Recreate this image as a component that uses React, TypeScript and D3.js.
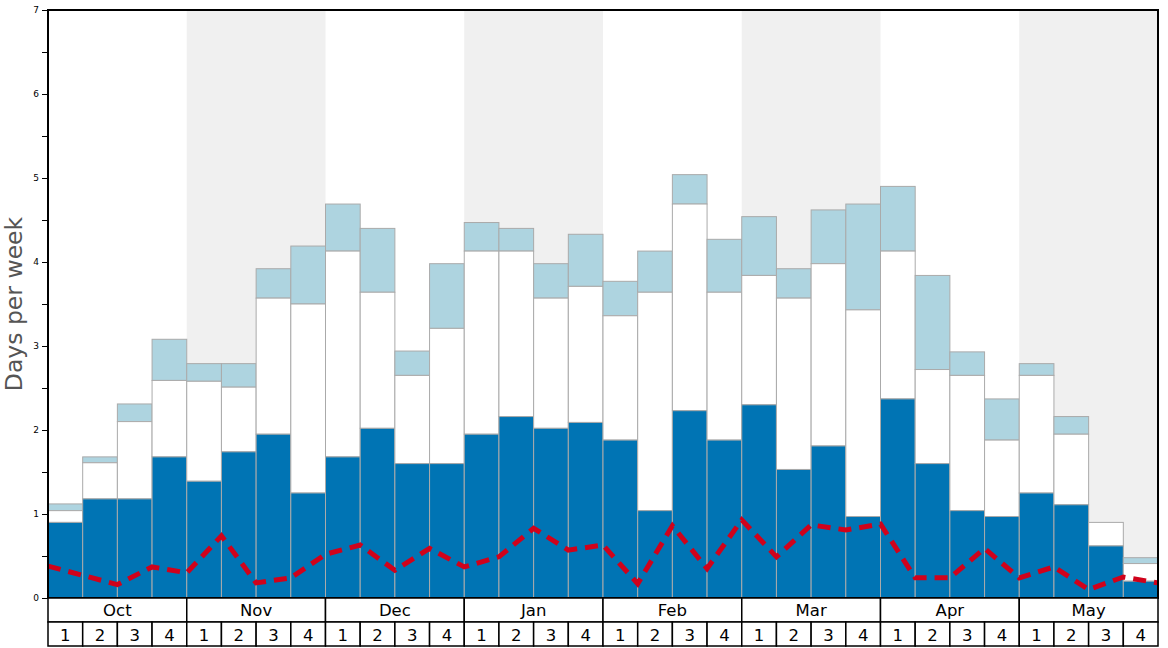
import * as React from 'react';
import * as d3 from 'd3';
import {useEffect, useRef} from 'react';

const months = ['Oct', 'Nov', 'Dec', 'Jan', 'Feb', 'Mar', 'Apr', 'May'];
const weekLabels = ['1', '2', '3', '4'];

// cumulative levels of the three stacked layers, one per week
const seriesLow = [0.9, 1.18, 1.18, 1.68, 1.39, 1.74, 1.95, 1.25, 1.68, 2.02, 1.6, 1.6, 1.95, 2.16, 2.02, 2.09,
    1.88, 1.04, 2.23, 1.88, 2.3, 1.53, 1.81, 0.97, 2.37, 1.6, 1.04, 0.97, 1.25, 1.11, 0.62, 0.2];
const seriesMid = [1.04, 1.61, 2.1, 2.59, 2.58, 2.51, 3.57, 3.5, 4.13, 3.64, 2.65, 3.21, 4.13, 4.13, 3.57, 3.71,
    3.36, 3.64, 4.69, 3.64, 3.84, 3.57, 3.98, 3.43, 4.13, 2.72, 2.65, 1.88, 2.65, 1.95, 0.9, 0.41];
const seriesHigh = [1.12, 1.68, 2.31, 3.08, 2.79, 2.79, 3.92, 4.19, 4.69, 4.4, 2.94, 3.98, 4.47, 4.4, 3.98, 4.33,
    3.77, 4.13, 5.04, 4.27, 4.54, 3.92, 4.62, 4.69, 4.9, 3.84, 2.93, 2.37, 2.79, 2.16, 0.9, 0.48];
// dashed line, one value per week boundary
const avgLine = [0.38, 0.27, 0.16, 0.37, 0.3, 0.74, 0.18, 0.24, 0.52, 0.63, 0.33, 0.59, 0.37, 0.49, 0.83, 0.57,
    0.63, 0.17, 0.86, 0.35, 0.93, 0.49, 0.87, 0.81, 0.88, 0.24, 0.24, 0.59, 0.24, 0.37, 0.1, 0.25, 0.18];

const width = 1168;
const height = 648;
const margins = {left: 48, right: 10, top: 10, bottom: 50};
const rowHeight = 24;

export default function App() {
    const axisRef = useRef<SVGGElement>(null);

    const weeks = months.flatMap(m => weekLabels.map(w => `${m}-${w}`));
    const x0 = margins.left;
    const x1 = width - margins.right;
    const y0 = height - margins.bottom;
    const xScale = d3.scaleBand().domain(weeks).range([x0, x1]);
    const monthScale = d3.scaleBand().domain(months).range([x0, x1]);
    const lineX = d3.scaleLinear().domain([0, weeks.length]).range([x0, x1]);
    const yScale = d3.scaleLinear().domain([0, 7]).range([y0, margins.top]);

    useEffect(() => {
        const axis = d3.axisLeft(yScale)
            .tickValues(d3.range(0, 7.01, 0.5))
            .tickFormat((d: any) => (d % 1 === 0 ? String(d) : ''))
            .tickSizeInner(5)
            .tickSizeOuter(0);
        const g = d3.select(axisRef.current);
        g.call(axis as any);
        g.select('.domain').remove();
        g.selectAll('text').attr('font-size', 9).attr('font-family', 'DejaVu Sans').attr('fill', '#000');
        g.selectAll('line').attr('stroke', '#000');
    }, []);

    const line = d3.line<number>()
        .x((d, i) => lineX(i))
        .y(d => yScale(d));

    const bw = xScale.bandwidth();

    return (
        <svg width={width} height={height} style={{position: 'absolute', left: 0, top: 0}}
             fontFamily="DejaVu Sans">
            {months.map((m, i) => i % 2 === 1 ? (
                <rect key={m} x={monthScale(m)} y={margins.top} width={monthScale.bandwidth()}
                      height={y0 - margins.top} fill="#f0f0f0"/>
            ) : null)}
            {weeks.map((w, i) => (
                <g key={w}>
                    <rect x={xScale(w)} y={yScale(seriesHigh[i])} width={bw}
                          height={yScale(seriesMid[i]) - yScale(seriesHigh[i])}
                          fill="#aed4e0" stroke="#aaa" strokeWidth={1}/>
                    <rect x={xScale(w)} y={yScale(seriesMid[i])} width={bw}
                          height={yScale(seriesLow[i]) - yScale(seriesMid[i])}
                          fill="#fff" stroke="#aaa" strokeWidth={1}/>
                    <rect x={xScale(w)} y={yScale(seriesLow[i])} width={bw}
                          height={y0 - yScale(seriesLow[i])}
                          fill="#0074b4" stroke="#aaa" strokeWidth={1}/>
                </g>
            ))}
            <path d={line(avgLine) || ''} fill="none" stroke="#d0021b" strokeWidth={5}
                  strokeDasharray="13 8"/>
            <rect x={x0} y={margins.top} width={x1 - x0} height={y0 - margins.top} fill="none"
                  stroke="#000" strokeWidth={2}/>
            <g ref={axisRef} transform={`translate(${x0 - 1},0)`}/>
            <text transform={`translate(22,${(margins.top + y0) / 2}) rotate(-90)`} textAnchor="middle"
                  fontSize={23.5} fill="#555">Days per week</text>
            {months.map(m => (
                <g key={m}>
                    <rect x={monthScale(m)} y={y0} width={monthScale.bandwidth()} height={rowHeight}
                          fill="#fff" stroke="#000" strokeWidth={1.5}/>
                    <text x={(monthScale(m) || 0) + monthScale.bandwidth() / 2} y={y0 + 18}
                          textAnchor="middle" fontSize={16.5}>{m}</text>
                </g>
            ))}
            {weeks.map((w, i) => (
                <g key={w}>
                    <rect x={xScale(w)} y={y0 + rowHeight} width={bw} height={rowHeight}
                          fill="#fff" stroke="#000" strokeWidth={1.5}/>
                    <text x={(xScale(w) || 0) + bw / 2} y={y0 + rowHeight + 19} textAnchor="middle"
                          fontSize={16.5}>{weekLabels[i % 4]}</text>
                </g>
            ))}
        </svg>
    );
}
